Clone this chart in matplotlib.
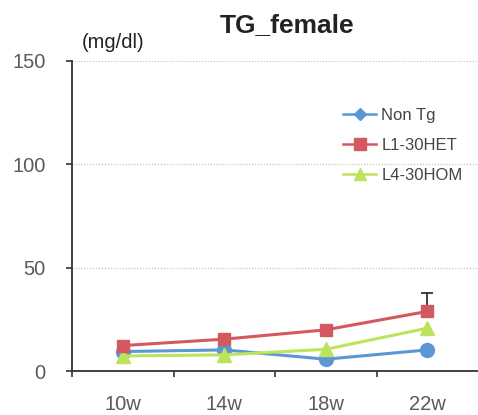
import matplotlib.pyplot as plt
from matplotlib.lines import Line2D

weeks = ["10w", "14w", "18w", "22w"]
non_tg = [9.4, 10.2, 5.7, 10.2]
l1_het = [12.3, 15.4, 19.9, 28.8]
l4_hom = [7.3, 7.8, 10.5, 20.7]
l1_het_err = [0, 0, 0, 9.0]

blue = "#5b97d6"
red = "#d4585f"
green = "#bde35c"

plt.rcParams['font.family'] = ['Liberation Sans', 'DejaVu Sans']

fig = plt.figure(figsize=(4.78, 4.15), dpi=100)
ax = fig.add_axes([0.151, 0.106, 0.849, 0.748])

x = range(len(weeks))
ax.plot(x, non_tg, color=blue, lw=2.2, marker="o", ms=10, zorder=3)
ax.plot(x, l4_hom, color=green, lw=2.2, marker="^", ms=10, zorder=4)
ax.errorbar(x, l1_het, yerr=[[0] * 4, l1_het_err], color=red, lw=2.2,
            marker="s", ms=9, ecolor="#333333", elinewidth=1.3, capsize=4,
            capthick=1.3, zorder=5)

ax.set_xlim(-0.5, 3.5)
ax.set_ylim(0, 150)
ax.set_yticks([0, 50, 100, 150])
ax.set_xticks(list(x))
ax.set_xticklabels(weeks)
ax.set_xticks([-0.5, 0.5, 1.5, 2.5], minor=True)
ax.tick_params(axis="x", which="major", length=0, pad=17)
ax.tick_params(axis="x", which="minor", length=4, width=1.2, color="#333333")
ax.tick_params(axis="y", length=4, width=1.2, color="#333333", pad=15)
ax.tick_params(labelsize=14.5, labelcolor="#5a5a5a")

for s in ["top", "right"]:
    ax.spines[s].set_visible(False)
for s in ["left", "bottom"]:
    ax.spines[s].set_color("#333333")
    ax.spines[s].set_linewidth(1.3)
ax.yaxis.grid(True, ls=":", color="#bbbbbb", lw=0.8)
ax.set_axisbelow(True)

fig.text(0.60, 0.94, "TG_female", fontsize=19, fontweight="bold",
         ha="center", va="center", color="#222222")
fig.text(0.237, 0.898, "(mg/dl)", fontsize=14.5, ha="center", va="center",
         color="#222222")

handles = [
    Line2D([], [], color=blue, lw=1.8, marker="D", ms=6),
    Line2D([], [], color=red, lw=1.8, marker="s", ms=8),
    Line2D([], [], color=green, lw=1.8, marker="^", ms=8),
]
ax.legend(handles, ["Non Tg", "L1-30HET", "L4-30HOM"], loc="upper left",
          bbox_to_anchor=(0.63, 0.895), frameon=False, fontsize=12,
          labelcolor="#444444", handlelength=2.0, handletextpad=0.3,
          labelspacing=0.9)

fig.savefig("out.png", dpi=100)
